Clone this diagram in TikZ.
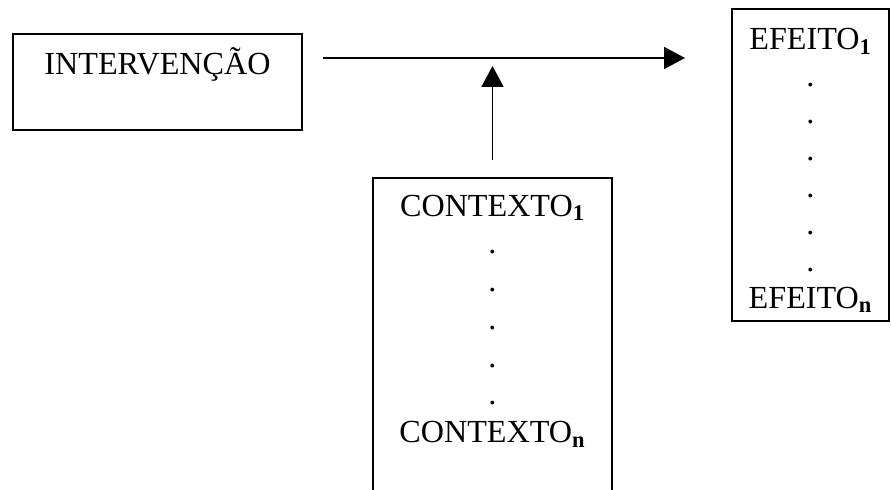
\documentclass[tikz,border=0pt]{standalone}
\usepackage{fontspec}
\setmainfont{Liberation Serif}
\usetikzlibrary{positioning, arrows.meta, calc}

\begin{document}
\begin{tikzpicture}[
  box/.style={
    rectangle, draw, line width=1pt, inner sep=0pt, outer sep=0pt,
    align=center, anchor=north west, font=\fontsize{18.3pt}{21pt}\selectfont
  },
  arrow/.style={-{Triangle[length=0.42cm, width=0.44cm]}, line width=1pt}
]
\useasboundingbox (0,0) rectangle (17.82,9.78);
\clip (0,0) rectangle (17.82,9.78);

% ==================== NODES ====================
% Intervention
\node[box, text width=5.78cm, text height=0.82cm, text depth=1.10cm] (interv) at (0.26,9.10) {INTERVENÇÃO};

% Context (runs past the bottom edge)
\node[box, text width=4.78cm, text height=0.76cm, text depth=6.2cm, font=\fontsize{18.3pt}{21.5pt}\selectfont] (context) at (7.46,6.22) {CONTEXTO\textsubscript{\textbf{1}}\\.\\.\\.\\.\\.\\CONTEXTO\textsubscript{\textbf{n}}};

% Effects
\node[box, text width=3.14cm, text height=0.82cm, text depth=5.42cm] (effect) at (14.64,9.60) {EFEITO\textsubscript{\textbf{1}}\\.\\.\\.\\.\\.\\.\\EFEITO\textsubscript{\textbf{n}}};

% ==================== CONNECTIONS ====================
\coordinate (hstart) at ($(interv.north east)+(0.42,-0.48)$);
\coordinate (hend) at ($(effect.west)+(-0.94,0)$);

% Intervention to effects
\draw[arrow] (hstart) -- (hstart -| hend);

% Context acting on the link
\draw[arrow, shorten >=0.16cm] ([yshift=0.36cm]context.north) -- (context.north |- hstart);
\end{tikzpicture}
\end{document}
